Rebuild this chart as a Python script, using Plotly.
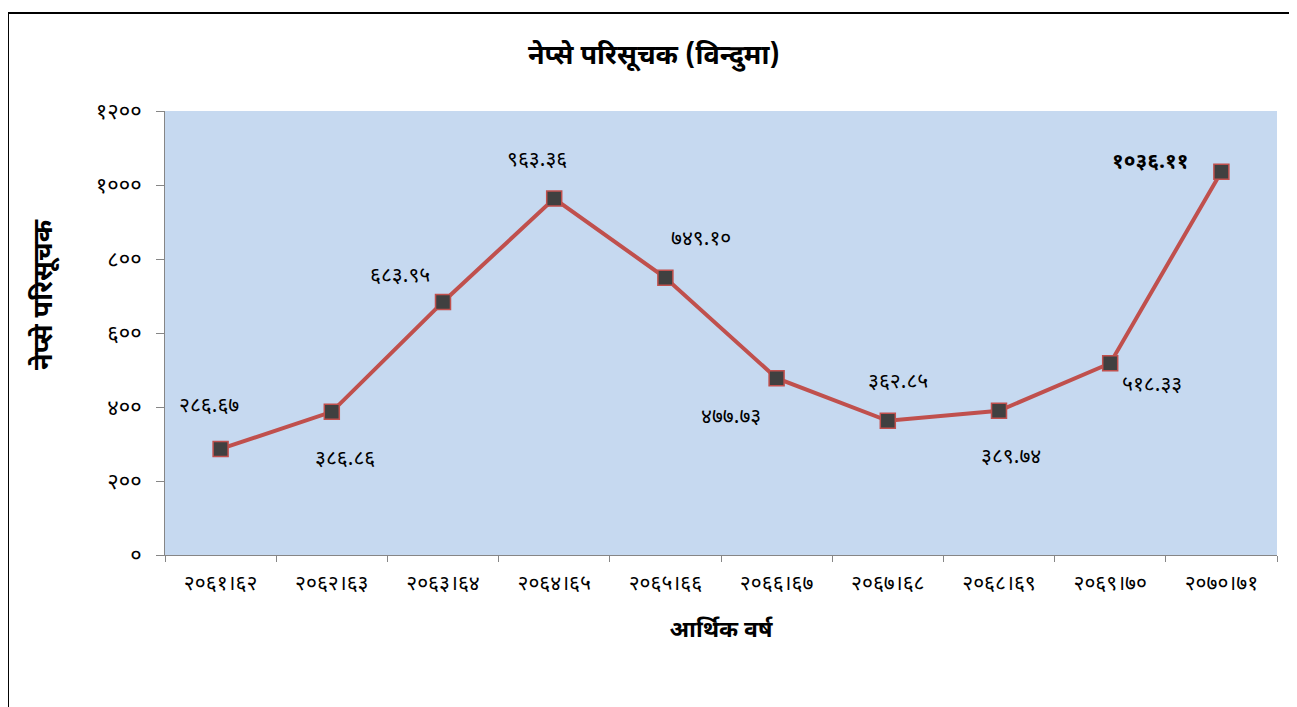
import plotly.graph_objects as go

categories = ["२०६१।६२", "२०६२।६३", "२०६३।६४", "२०६४।६५", "२०६५।६६",
              "२०६६।६७", "२०६७।६८", "२०६८।६९", "२०६९।७०", "२०७०।७१"]
values = [286.67, 386.86, 683.95, 963.36, 749.10, 477.73, 362.85, 389.74, 518.33, 1036.11]
value_labels = ["२८६.६७", "३८६.८६", "६८३.९५", "९६३.३६", "७४९.१०",
                "४७७.७३", "३६२.८५", "३८९.७४", "५१८.३३", "१०३६.११"]
y_tick_vals = [0, 200, 400, 600, 800, 1000, 1200]
y_tick_text = ["०", "२००", "४००", "६००", "८००", "१०००", "१२००"]

# label offsets in pixels (placement only)
label_dx = [-12, 13, -43, -17, 36, -46, 10, 12, 42, -71]
label_dy = [42, -48, 25, 38, 38, -40, 38, -47, -23, 9]

FONT = "Noto Sans Devanagari, Mangal, Noto Sans, sans-serif"

fig = go.Figure()
fig.add_trace(go.Scatter(
    x=categories, y=values, mode="lines+markers",
    line=dict(color="#C0504D", width=4),
    marker=dict(symbol="square", size=15, color="#404040",
                line=dict(color="#C0504D", width=1.5)),
    hoverinfo="x+y", showlegend=False,
))

for i, (c, v, t) in enumerate(zip(categories, values, value_labels)):
    bold = i == len(values) - 1
    fig.add_annotation(
        x=c, y=v, text=f"<b>{t}</b>" if bold else t, showarrow=False,
        xshift=label_dx[i], yshift=label_dy[i],
        font=dict(family=FONT, size=21, color="black"),
    )

# y-axis title
fig.add_annotation(
    xref="paper", yref="paper", x=-0.1079, y=0.5856,
    text="<b>नेप्से परिसूचक</b>", textangle=-90, showarrow=False,
    xanchor="center", yanchor="middle",
    font=dict(family=FONT, size=27, color="black"),
)

fig.add_shape(type="rect", xref="paper", yref="paper",
              x0=-0.1412, y0=-0.6, x1=1.2, y1=1.2207,
              line=dict(color="black", width=2), layer="below")

fig.update_layout(
    width=1297, height=707,
    margin=dict(l=157, r=28, t=103, b=160),
    paper_bgcolor="white", plot_bgcolor="#C6D9F0",
    font=dict(family=FONT, color="black"),
    title=dict(text="<b>नेप्से परिसूचक (विन्दुमा)</b>", x=0.498, xanchor="center",
               y=0.9335, yanchor="middle", font=dict(size=27, family=FONT)),
    xaxis=dict(
        title=dict(text="<b>आर्थिक वर्ष</b>", font=dict(size=23, family=FONT), standoff=22),
        tickfont=dict(size=21, family=FONT), ticklabelstandoff=9,
        showgrid=False, showline=True, linecolor="#868686", linewidth=1,
        ticks="outside", ticklen=6, tickcolor="#868686", tickson="boundaries",
        range=[-0.5, 9.5],
    ),
    yaxis=dict(
        tickfont=dict(size=22, family=FONT), ticklabelstandoff=10,
        tickvals=y_tick_vals, ticktext=y_tick_text,
        range=[0, 1200], showgrid=False, zeroline=False,
        showline=True, linecolor="#868686", linewidth=1,
        ticks="outside", ticklen=8, tickcolor="#868686",
    ),
)

fig.write_html("out.html")
